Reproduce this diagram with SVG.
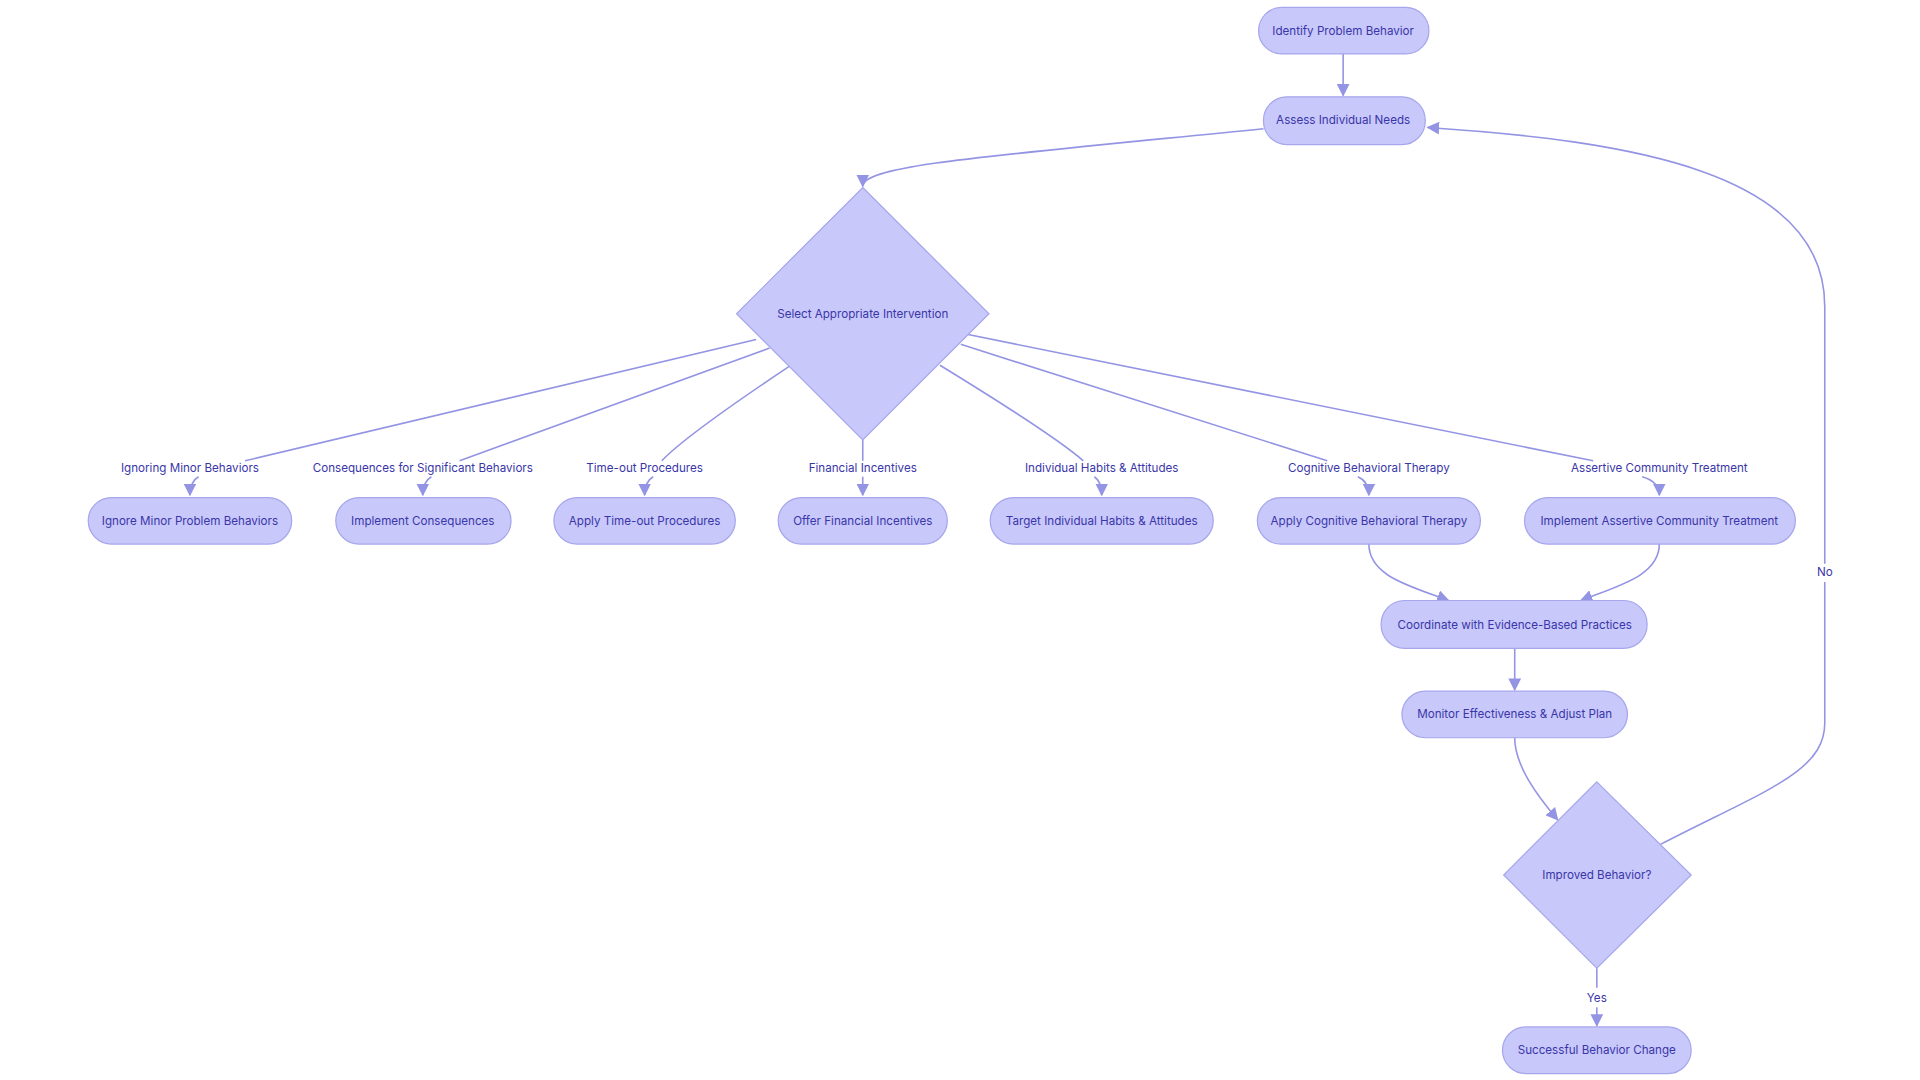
<svg xmlns="http://www.w3.org/2000/svg" width="1920" height="1080" viewBox="0 0 1920 1080">
<defs>
<marker id="ah" viewBox="0 0 10 10" refX="9" refY="5" markerWidth="8" markerHeight="8" orient="auto"><path d="M0,0 L10,5 L0,10 z" fill="#9494e4"/></marker>
<style>
.n{fill:#c8c8fb;stroke:#a6a6ec;stroke-width:1}
.t{font-family:Inter,"Liberation Sans",sans-serif;font-size:9.5px;fill:#3a36a8;text-anchor:middle;dominant-baseline:central}
.e{fill:none;stroke:#9494e4;stroke-width:1.3}
.ea{fill:none;stroke:#9494e4;stroke-width:1.3;marker-end:url(#ah)}
</style>
</defs>
<rect width="1920" height="1080" fill="#fff"/>
<g transform="scale(1.2255)">
<g id="connectors">
<path class="ea" d="M1096,44 L1096,78"/>
<path class="ea" d="M1031,105 C800,128 704,135 704,152"/>
<path class="e" d="M617,277 L200,376"/>
<path class="ea" d="M162,389 Q155,393 155,404"/>
<path class="e" d="M628,284 L375,376"/>
<path class="ea" d="M352,389 Q345,393 345,404"/>
<path class="e" d="M644,299 Q560,355 540,376"/>
<path class="ea" d="M533,389 Q526,393 526,404"/>
<path class="e" d="M704,359 L704,376"/>
<path class="ea" d="M704,389 L704,404"/>
<path class="e" d="M767,298 Q860,355 884,376"/>
<path class="ea" d="M893,389 Q899,393 899,404"/>
<path class="e" d="M784,281 L1083,376"/>
<path class="ea" d="M1108,389 Q1117,393 1117,404"/>
<path class="e" d="M790,273 L1300,376"/>
<path class="ea" d="M1340,389 Q1354,393 1354,404"/>
<path class="ea" d="M1117,444 C1117,470 1150,478 1182,490"/>
<path class="ea" d="M1354,444 C1354,470 1320,478 1290,490"/>
<path class="ea" d="M1236,529 L1236,563"/>
<path class="ea" d="M1236,602 C1236,625 1255,650 1271,669"/>
<path class="e" d="M1303,790 L1303,806"/>
<path class="ea" d="M1303,822 L1303,837"/>
<path class="e" d="M1355,689 C1440,645 1489,630 1489,590 L1489,475"/>
<path class="ea" d="M1489,460 L1489,250 C1489,140 1330,115 1165,104"/>
</g>
<g class="t">
<text class="t" x="155" y="382">Ignoring Minor Behaviors</text>
<text class="t" x="345" y="382">Consequences for Significant Behaviors</text>
<text class="t" x="526" y="382">Time-out Procedures</text>
<text class="t" x="704" y="382">Financial Incentives</text>
<text class="t" x="899" y="382">Individual Habits &amp; Attitudes</text>
<text class="t" x="1117" y="382">Cognitive Behavioral Therapy</text>
<text class="t" x="1354" y="382">Assertive Community Treatment</text>
<text class="t" x="1489" y="467">No</text>
<text class="t" x="1303" y="814">Yes</text>
</g>
<g id="identify"><rect class="n" x="1027" y="6" width="139" height="38" rx="19"/><text class="t" x="1096" y="25">Identify Problem Behavior</text></g>
<g id="assess"><rect class="n" x="1031" y="79" width="132" height="39" rx="19"/><text class="t" x="1096" y="98">Assess Individual Needs</text></g>
<g id="select"><polygon class="n" points="704,153 807,256 704,359 601,256"/><text class="t" x="704" y="256">Select Appropriate Intervention</text></g>
<g id="ignore"><rect class="n" x="72" y="406" width="166" height="38" rx="19"/><text class="t" x="155" y="425">Ignore Minor Problem Behaviors</text></g>
<g id="consequences"><rect class="n" x="274" y="406" width="143" height="38" rx="19"/><text class="t" x="345" y="425">Implement Consequences</text></g>
<g id="timeout"><rect class="n" x="452" y="406" width="148" height="38" rx="19"/><text class="t" x="526" y="425">Apply Time-out Procedures</text></g>
<g id="financial"><rect class="n" x="635" y="406" width="138" height="38" rx="19"/><text class="t" x="704" y="425">Offer Financial Incentives</text></g>
<g id="habits"><rect class="n" x="808" y="406" width="182" height="38" rx="19"/><text class="t" x="899" y="425">Target Individual Habits &amp; Attitudes</text></g>
<g id="cbt"><rect class="n" x="1026" y="406" width="182" height="38" rx="19"/><text class="t" x="1117" y="425">Apply Cognitive Behavioral Therapy</text></g>
<g id="act"><rect class="n" x="1244" y="406" width="221" height="38" rx="19"/><text class="t" x="1354" y="425">Implement Assertive Community Treatment</text></g>
<g id="coordinate"><rect class="n" x="1127" y="490" width="217" height="39" rx="19"/><text class="t" x="1236" y="510">Coordinate with Evidence-Based Practices</text></g>
<g id="monitor"><rect class="n" x="1144" y="564" width="184" height="38" rx="19"/><text class="t" x="1236" y="583">Monitor Effectiveness &amp; Adjust Plan</text></g>
<g id="improved"><polygon class="n" points="1303,638 1380,714 1303,790 1227,714"/><text class="t" x="1303" y="714">Improved Behavior?</text></g>
<g id="success"><rect class="n" x="1226" y="838" width="154" height="38" rx="19"/><text class="t" x="1303" y="857">Successful Behavior Change</text></g>
</g>
</svg>
